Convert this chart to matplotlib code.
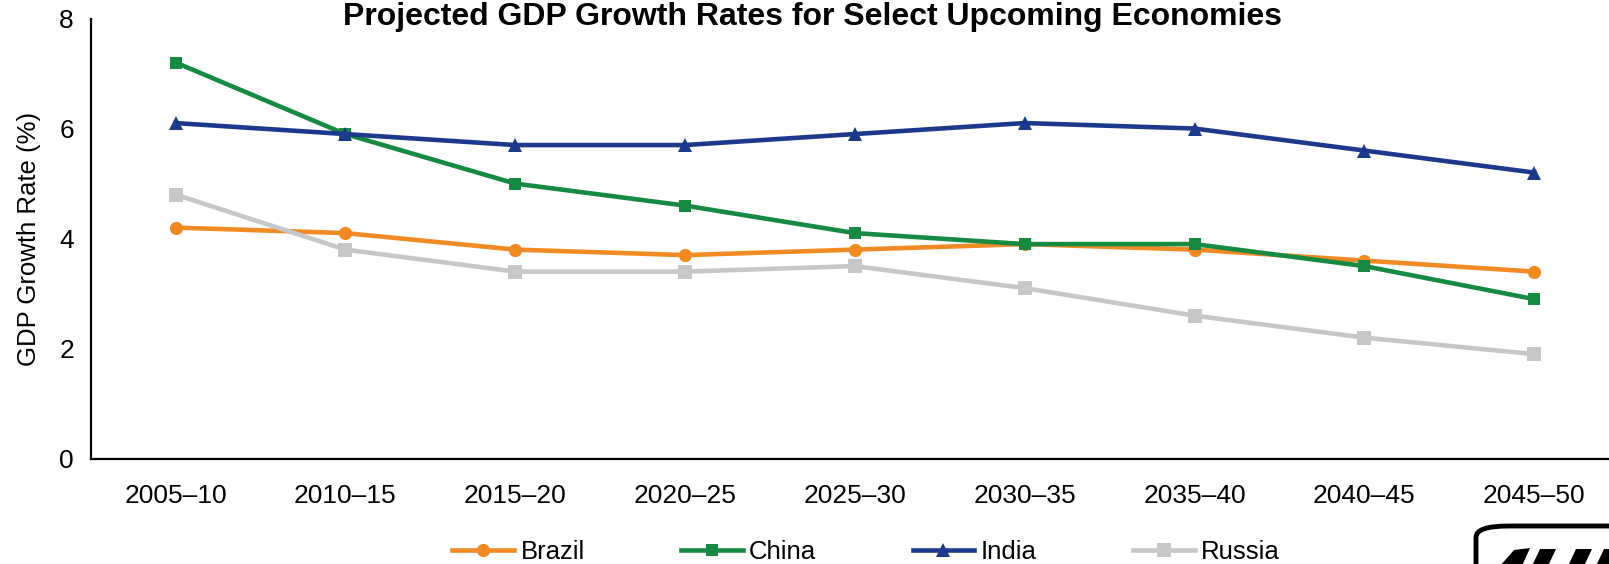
import matplotlib.pyplot as plt
from matplotlib.patches import FancyBboxPatch, Polygon

plt.rcParams['font.family'] = ['Liberation Sans', 'DejaVu Sans']

periods = ["2005–10", "2010–15", "2015–20", "2020–25", "2025–30",
           "2030–35", "2035–40", "2040–45", "2045–50"]
brazil = [4.2, 4.1, 3.8, 3.7, 3.8, 3.9, 3.8, 3.6, 3.4]
china = [7.2, 5.9, 5.0, 4.6, 4.1, 3.9, 3.9, 3.5, 2.9]
india = [6.1, 5.9, 5.7, 5.7, 5.9, 6.1, 6.0, 5.6, 5.2]
russia = [4.8, 3.8, 3.4, 3.4, 3.5, 3.1, 2.6, 2.2, 1.9]

W, H = 1609, 564
fig = plt.figure(figsize=(W / 100, H / 100), dpi=100)

# axes placed in pixels (it runs a bit past the right edge, like the original)
left, right, top, bottom = 90.6, 1609, 18.5, 458.7
ax = fig.add_axes([left / W, 1 - bottom / H, (right - left) / W, (bottom - top) / H])

x = range(len(periods))
series = [
    ("Brazil", brazil, "#F28A24", "o", 9.5),
    ("China", china, "#178A41", "s", 9),
    ("India", india, "#1C3A8B", "^", 10.5),
    ("Russia", russia, "#C7C7C9", "s", 10.5),
]
for name, vals, col, mk, ms in series:
    ax.plot(x, vals, color=col, lw=3.3, marker=mk, markersize=ms,
            markeredgewidth=0, label=name)

ax.set_xlim(-0.5, 8.44)
ax.set_ylim(0, 8)
ax.set_yticks([0, 2, 4, 6, 8])
ax.set_xticks(list(x))
ax.set_xticklabels(periods)
ax.tick_params(axis='both', length=0, labelsize=19)
ax.tick_params(axis='x', pad=18)
ax.tick_params(axis='y', pad=12)
for s in ["top", "right"]:
    ax.spines[s].set_visible(False)
for s in ["left", "bottom"]:
    ax.spines[s].set_linewidth(1.6)
ax.set_ylabel("GDP Growth Rate (%)", fontsize=18.5, labelpad=13)

fig.text(813 / W, 1 - 17.5 / H,
         "Projected GDP Growth Rates for Select Upcoming Economies",
         ha="center", va="center", fontsize=23, fontweight="bold")

fig.legend(loc="center", bbox_to_anchor=(866 / W, 1 - 552 / H), ncol=4,
           frameon=False, fontsize=18.5, handlelength=2.4, handletextpad=0.25,
           columnspacing=3.75, borderpad=0)

# partly visible logo at bottom right
box = FancyBboxPatch((1476 / W, 1 - 600 / H), 200 / W, 74 / H,
                     boxstyle="round,pad=0,rounding_size=0.02",
                     transform=fig.transFigure, fc="white", ec="black", lw=3.5,
                     clip_on=False)
fig.patches.append(box)
for pts in [
    [(1500, 566), (1514, 550), (1530, 548), (1522, 566)],
    [(1532, 566), (1540, 549), (1556, 549), (1548, 566)],
    [(1568, 566), (1576, 549), (1592, 549), (1584, 566)],
    [(1596, 566), (1604, 549), (1612, 549), (1612, 566)],
]:
    fig.patches.append(Polygon([(px / W, 1 - py / H) for px, py in pts],
                               closed=True, transform=fig.transFigure,
                               fc="black", ec="none"))

fig.savefig("out.png", dpi=100)
